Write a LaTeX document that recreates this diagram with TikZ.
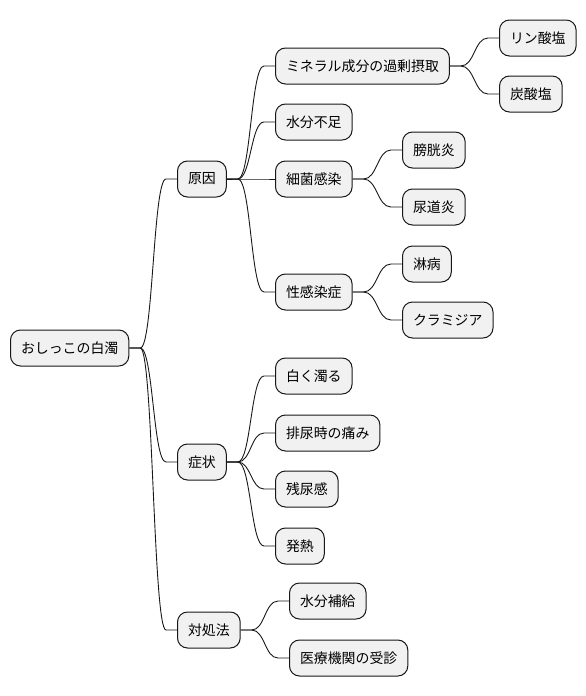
\documentclass[tikz,border=0pt]{standalone}
\usepackage{fontspec}
\setmainfont{Noto Sans CJK JP}
\usetikzlibrary{calc}
\definecolor{boxfill}{HTML}{F1F1F1}
\definecolor{ink}{HTML}{181818}
\newcommand\mmedge[2]{\draw[edge] let \p1=(#1.east), \p2=(#2.west) in (\p1) -- ++(11pt,0) .. controls ({(\x1+\x2)/2},\y1) and ({(\x1+\x2)/2},\y2) .. ($(\p2)+(-11pt,0)$) -- (\p2);}
\begin{document}
\begin{tikzpicture}[x=1pt,y=-1pt,
  box/.style={draw=ink, line width=1pt, fill=boxfill, rounded corners=10pt, minimum height=36pt, inner xsep=10.5pt, inner ysep=0pt, anchor=west, font=\fontsize{13.9}{16}\selectfont},
  edge/.style={draw=ink, line width=0.9pt}]
\useasboundingbox (0,0) rectangle (586,696);
\node[box] (root) at (10,348) {おしっこの白濁};
\node[box] (gen) at (177,179) {原因};
\node[box] (sho) at (177,462) {症状};
\node[box] (tai) at (177,630) {対処法};
\node[box] (min) at (275,66) {ミネラル成分の過剰摂取};
\node[box] (mizu) at (275,122) {水分不足};
\node[box] (saikin) at (275,179) {細菌感染};
\node[box] (bokou) at (402,150) {膀胱炎};
\node[box] (nyodo) at (402,207) {尿道炎};
\node[box] (sei) at (275,292) {性感染症};
\node[box] (rin) at (402,264) {淋病};
\node[box] (kura) at (402,320) {クラミジア};
\node[box] (shiro) at (275,376) {白く濁る};
\node[box] (hai) at (275,433) {排尿時の痛み};
\node[box] (zan) at (275,489) {残尿感};
\node[box] (netsu) at (275,546) {発熱};
\node[box] (hokyu) at (289,601) {水分補給};
\node[box] (iryo) at (289,658) {医療機関の受診};
\node[box] (rinsan) at (499,38) {リン酸塩};
\node[box] (tansan) at (499,94) {炭酸塩};
\mmedge{root}{gen}
\mmedge{root}{sho}
\mmedge{root}{tai}
\mmedge{gen}{min}
\mmedge{gen}{mizu}
\mmedge{gen}{saikin}
\mmedge{gen}{sei}
\mmedge{min}{rinsan}
\mmedge{min}{tansan}
\mmedge{saikin}{bokou}
\mmedge{saikin}{nyodo}
\mmedge{sei}{rin}
\mmedge{sei}{kura}
\mmedge{sho}{shiro}
\mmedge{sho}{hai}
\mmedge{sho}{zan}
\mmedge{sho}{netsu}
\mmedge{tai}{hokyu}
\mmedge{tai}{iryo}
\end{tikzpicture}
\end{document}
